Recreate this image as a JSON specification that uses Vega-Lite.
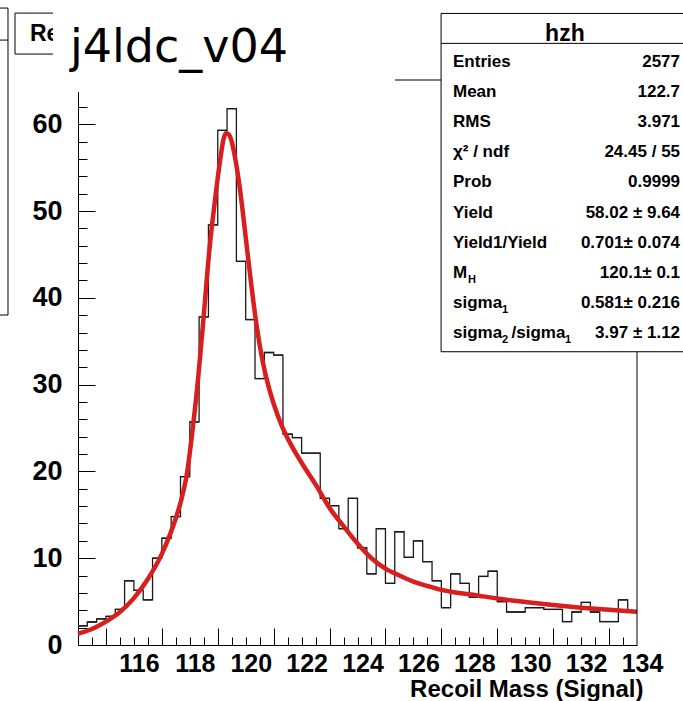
{
  "$schema": "https://vega.github.io/schema/vega-lite/v6.json",
  "width": 559,
  "height": 565,
  "autosize": "none",
  "padding": {"left": 78, "top": 80, "right": 46, "bottom": 56},
  "background": "white",
  "config": {"view": {"stroke": null}},
  "datasets": {
    "hist": [
      {"lo": 115, "hi": 115.333, "n": 2.2}, {"lo": 115.333, "hi": 115.667, "n": 2.65}, {"lo": 115.667, "hi": 116, "n": 3.0},
      {"lo": 116, "hi": 116.333, "n": 3.3}, {"lo": 116.333, "hi": 116.667, "n": 4.1}, {"lo": 116.667, "hi": 117, "n": 7.4},
      {"lo": 117, "hi": 117.333, "n": 6.3}, {"lo": 117.333, "hi": 117.667, "n": 5.2}, {"lo": 117.667, "hi": 118, "n": 10.0},
      {"lo": 118, "hi": 118.333, "n": 12.3}, {"lo": 118.333, "hi": 118.667, "n": 14.8}, {"lo": 118.667, "hi": 119, "n": 19.4},
      {"lo": 119, "hi": 119.333, "n": 25.7}, {"lo": 119.333, "hi": 119.667, "n": 37.8}, {"lo": 119.667, "hi": 120, "n": 48.4},
      {"lo": 120, "hi": 120.333, "n": 59.3}, {"lo": 120.333, "hi": 120.667, "n": 61.8}, {"lo": 120.667, "hi": 121, "n": 44.2},
      {"lo": 121, "hi": 121.333, "n": 37.5}, {"lo": 121.333, "hi": 121.667, "n": 30.7}, {"lo": 121.667, "hi": 122, "n": 33.7},
      {"lo": 122, "hi": 122.333, "n": 33.4}, {"lo": 122.333, "hi": 122.667, "n": 24.3}, {"lo": 122.667, "hi": 123, "n": 23.9},
      {"lo": 123, "hi": 123.333, "n": 22.1}, {"lo": 123.333, "hi": 123.667, "n": 22.1}, {"lo": 123.667, "hi": 124, "n": 16.9},
      {"lo": 124, "hi": 124.333, "n": 16.05}, {"lo": 124.333, "hi": 124.667, "n": 13.4}, {"lo": 124.667, "hi": 125, "n": 16.9},
      {"lo": 125, "hi": 125.333, "n": 11.2}, {"lo": 125.333, "hi": 125.667, "n": 8.2}, {"lo": 125.667, "hi": 126, "n": 13.4},
      {"lo": 126, "hi": 126.333, "n": 7.1}, {"lo": 126.333, "hi": 126.667, "n": 13.05}, {"lo": 126.667, "hi": 127, "n": 10.1},
      {"lo": 127, "hi": 127.333, "n": 12.0}, {"lo": 127.333, "hi": 127.667, "n": 9.6}, {"lo": 127.667, "hi": 128, "n": 7.4},
      {"lo": 128, "hi": 128.333, "n": 4.3}, {"lo": 128.333, "hi": 128.667, "n": 8.2}, {"lo": 128.667, "hi": 129, "n": 7.1},
      {"lo": 129, "hi": 129.333, "n": 5.5}, {"lo": 129.333, "hi": 129.667, "n": 7.9}, {"lo": 129.667, "hi": 130, "n": 8.5},
      {"lo": 130, "hi": 130.333, "n": 5.0}, {"lo": 130.333, "hi": 130.667, "n": 3.8}, {"lo": 130.667, "hi": 131, "n": 3.8},
      {"lo": 131, "hi": 131.333, "n": 4.3}, {"lo": 131.333, "hi": 131.667, "n": 4.3}, {"lo": 131.667, "hi": 132, "n": 4.1},
      {"lo": 132, "hi": 132.333, "n": 4.1}, {"lo": 132.333, "hi": 132.667, "n": 2.7}, {"lo": 132.667, "hi": 133, "n": 3.8},
      {"lo": 133, "hi": 133.333, "n": 4.9}, {"lo": 133.333, "hi": 133.667, "n": 3.8}, {"lo": 133.667, "hi": 134, "n": 2.7},
      {"lo": 134, "hi": 134.333, "n": 2.7}, {"lo": 134.333, "hi": 134.667, "n": 5.2}, {"lo": 134.667, "hi": 135, "n": 3.8}
    ],
    "fit": [
      {"m": 115.0, "f": 1.3}, {"m": 115.5, "f": 1.85}, {"m": 116.0, "f": 2.7}, {"m": 116.5, "f": 3.8},
      {"m": 117.0, "f": 5.4}, {"m": 117.5, "f": 7.6}, {"m": 118.0, "f": 10.5}, {"m": 118.3, "f": 12.8},
      {"m": 118.5, "f": 14.6}, {"m": 118.7, "f": 16.8}, {"m": 118.9, "f": 19.8}, {"m": 119.1, "f": 24.8},
      {"m": 119.3, "f": 30.8}, {"m": 119.5, "f": 38.0}, {"m": 119.7, "f": 45.5}, {"m": 119.9, "f": 51.2},
      {"m": 120.1, "f": 56.2}, {"m": 120.2, "f": 58.2}, {"m": 120.3, "f": 59.0}, {"m": 120.4, "f": 58.8},
      {"m": 120.5, "f": 58.0}, {"m": 120.6, "f": 56.5}, {"m": 120.8, "f": 52.4}, {"m": 121.0, "f": 47.0},
      {"m": 121.2, "f": 41.5}, {"m": 121.4, "f": 36.6}, {"m": 121.6, "f": 32.8}, {"m": 121.8, "f": 30.0},
      {"m": 122.0, "f": 27.8}, {"m": 122.3, "f": 25.2}, {"m": 122.6, "f": 23.2}, {"m": 123.0, "f": 21.0},
      {"m": 123.5, "f": 18.5}, {"m": 124.0, "f": 15.8}, {"m": 124.5, "f": 13.7}, {"m": 125.0, "f": 11.7},
      {"m": 125.5, "f": 10.0}, {"m": 126.0, "f": 8.8}, {"m": 126.5, "f": 8.0}, {"m": 127.0, "f": 7.3},
      {"m": 127.5, "f": 6.8}, {"m": 128.0, "f": 6.35}, {"m": 128.5, "f": 6.05}, {"m": 129.0, "f": 5.85},
      {"m": 129.5, "f": 5.6}, {"m": 130.0, "f": 5.35}, {"m": 131.0, "f": 4.95}, {"m": 132.0, "f": 4.6},
      {"m": 133.0, "f": 4.3}, {"m": 134.0, "f": 4.05}, {"m": 135.0, "f": 3.84}
    ],
    "stats": [
      {"row": "Entries", "lab": "Entries", "val": "2577", "subM": "", "subA": "", "subB": ""},
      {"row": "Mean", "lab": "Mean", "val": "122.7", "subM": "", "subA": "", "subB": ""},
      {"row": "RMS", "lab": "RMS", "val": "3.971", "subM": "", "subA": "", "subB": ""},
      {"row": "chi2", "lab": "χ² / ndf", "val": "24.45 / 55", "subM": "", "subA": "", "subB": ""},
      {"row": "Prob", "lab": "Prob", "val": "0.9999", "subM": "", "subA": "", "subB": ""},
      {"row": "Yield", "lab": "Yield", "val": "58.02 ± 9.64", "subM": "", "subA": "", "subB": ""},
      {"row": "Yield1/Yield", "lab": "Yield1/Yield", "val": "0.701± 0.074", "subM": "", "subA": "", "subB": ""},
      {"row": "M_H", "lab": "M", "val": "120.1± 0.1", "subM": "H", "subA": "", "subB": ""},
      {"row": "sigma_1", "lab": "sigma", "val": "0.581± 0.216", "subM": "", "subA": "1", "subB": ""},
      {"row": "sigma_2/sigma_1", "lab": "sigma\u00a0\u00a0/sigma", "val": "3.97 ± 1.12", "subM": "", "subA": "2", "subB": "1"}
    ]
  },
  "layer": [
    {
      "resolve": {"axis": {"x": "independent", "y": "independent"}},
      "layer": [
        {
          "data": {"name": "hist"},
          "mark": {"type": "line", "interpolate": "step-after", "color": "#1a1a1a", "strokeWidth": 1.3},
          "encoding": {
            "x": {"field": "lo", "type": "quantitative",
              "scale": {"domain": [115, 135], "nice": false, "zero": false},
              "axis": {"orient": "bottom", "values": [116, 118, 120, 122, 124, 126, 128, 130, 132, 134], "format": "d",
                "tickSize": -17, "tickColor": "black", "tickWidth": 1, "domainColor": "black", "domainWidth": 1,
                "labelFont": "Liberation Sans", "labelFontWeight": "bold", "labelFontSize": 25, "labelColor": "black",
                "labelPadding": 23, "labelOffset": 33, "labelFlush": false, "labelOverlap": false, "grid": false,
                "title": "Recoil Mass (Signal)", "titleFont": "Liberation Sans", "titleFontWeight": "bold", "titleFontSize": 24,
                "titleColor": "black", "titleAnchor": "end", "titleAlign": "right", "titleBaseline": "alphabetic", "titleX": 565, "titleY": 51}},
            "y": {"field": "n", "type": "quantitative",
              "scale": {"domain": [0, 65.1], "nice": false, "zero": true},
              "axis": {"orient": "left", "values": [0, 10, 20, 30, 40, 50, 60], "format": "d",
                "tickSize": -17, "tickColor": "black", "tickWidth": 1, "domainColor": "black", "domainWidth": 1,
                "labelFont": "Liberation Sans", "labelFontWeight": "bold", "labelFontSize": 27, "labelColor": "black",
                "labelPadding": 33, "labelFlush": false, "labelOverlap": false, "grid": false, "title": null}}
          }
        },
        {
          "data": {"name": "hist"},
          "mark": {"type": "rule", "color": "#1a1a1a", "strokeWidth": 1.3},
          "encoding": {
            "x": {"field": "lo", "type": "quantitative", "axis": null},
            "x2": {"field": "hi"},
            "y": {"field": "n", "type": "quantitative", "axis": null}
          }
        },
        {
          "data": {"name": "fit"},
          "mark": {"type": "line", "interpolate": "monotone", "color": "#d81e1e", "strokeWidth": 4.5},
          "encoding": {
            "x": {"field": "m", "type": "quantitative",
              "axis": {"orient": "bottom", "values": [115.5, 116.5, 117, 117.5, 118.5, 119, 119.5, 120.5, 121, 121.5, 122.5, 123, 123.5, 124.5, 125, 125.5, 126.5, 127, 127.5, 128.5, 129, 129.5, 130.5, 131, 131.5, 132.5, 133, 133.5, 134.5],
                "tickSize": -8, "tickColor": "black", "tickWidth": 1, "domain": false, "labels": false, "grid": false, "title": null}},
            "y": {"field": "f", "type": "quantitative",
              "axis": {"orient": "left", "values": [2, 4, 6, 8, 12, 14, 16, 18, 22, 24, 26, 28, 32, 34, 36, 38, 42, 44, 46, 48, 52, 54, 56, 58, 62, 64],
                "tickSize": -9, "tickColor": "black", "tickWidth": 1, "domain": false, "labels": false, "grid": false, "title": null}}
          }
        },
        {
          "data": {"values": [{}]},
          "mark": {"type": "rule", "color": "black", "strokeWidth": 1},
          "encoding": {"x": {"datum": 115, "axis": null}, "x2": {"datum": 135}, "y": {"datum": 65.1, "axis": null}}
        },
        {
          "data": {"values": [{}]},
          "mark": {"type": "rule", "color": "black", "strokeWidth": 1},
          "encoding": {"x": {"datum": 135, "axis": null}, "y": {"datum": 0, "axis": null}, "y2": {"datum": 65.1}}
        },
        {
          "data": {"values": [{}]},
          "mark": {"type": "rect", "fill": null, "fillOpacity": 0, "stroke": "black", "strokeWidth": 1},
          "encoding": {"x": {"datum": 110.4, "axis": null}, "x2": {"datum": 112.495}, "y": {"datum": 73.39, "axis": null}, "y2": {"datum": 38.02}}
        },
        {
          "data": {"values": [{}]},
          "mark": {"type": "rule", "color": "black", "strokeWidth": 1},
          "encoding": {"x": {"datum": 110.4, "axis": null}, "x2": {"datum": 112.495}, "y": {"datum": 69.7, "axis": null}}
        },
        {
          "data": {"values": [{}]},
          "mark": {"type": "rect", "fill": "white", "stroke": "black", "strokeWidth": 1},
          "encoding": {"x": {"datum": 112.746, "axis": null}, "x2": {"datum": 114.6}, "y": {"datum": 72.81, "axis": null}, "y2": {"datum": 68.09}}
        },
        {
          "data": {"values": [{}]},
          "mark": {"type": "text", "text": "Re", "align": "left", "baseline": "middle", "font": "Liberation Sans", "fontWeight": "bold", "fontSize": 23, "color": "black"},
          "encoding": {"x": {"datum": 113.283, "axis": null}, "y": {"datum": 70.4, "axis": null}}
        },
        {
          "data": {"values": [{}]},
          "mark": {"type": "rect", "fill": "white", "stroke": null},
          "encoding": {"x": {"datum": 114.106, "axis": null}, "x2": {"datum": 126.342}, "y": {"datum": 74.6, "axis": null}, "y2": {"datum": 63.71}}
        },
        {
          "data": {"values": [{}]},
          "mark": {"type": "text", "text": "j4ldc_v04", "align": "left", "baseline": "alphabetic", "font": "DejaVu Sans", "fontSize": 46, "color": "black"},
          "encoding": {"x": {"datum": 114.714, "axis": null}, "y": {"datum": 67.17, "axis": null}}
        },
        {
          "data": {"values": [{}]},
          "mark": {"type": "rect", "fill": "white", "stroke": "black", "strokeWidth": 1},
          "encoding": {"x": {"datum": 127.99, "axis": null}, "x2": {"datum": 136.9}, "y": {"datum": 72.77, "axis": null}, "y2": {"datum": 33.79}}
        },
        {
          "data": {"values": [{}]},
          "mark": {"type": "rule", "color": "black", "strokeWidth": 1},
          "encoding": {"x": {"datum": 127.99, "axis": null}, "x2": {"datum": 136.9}, "y": {"datum": 69.32, "axis": null}}
        },
        {
          "data": {"values": [{}]},
          "mark": {"type": "text", "text": "hzh", "align": "center", "baseline": "alphabetic", "font": "Liberation Sans", "fontWeight": "bold", "fontSize": 23, "color": "black"},
          "encoding": {"x": {"datum": 132.42, "axis": null}, "y": {"datum": 69.6, "axis": null}}
        }
      ]
    },
    {
      "data": {"name": "stats"},
      "encoding": {
        "y": {"field": "row", "type": "ordinal", "sort": null, "scale": {"type": "point", "range": [-18.3, 253.3], "padding": 0}, "axis": null}
      },
      "layer": [
        {
          "mark": {"type": "text", "align": "left", "baseline": "middle", "font": "Liberation Sans", "fontWeight": "bold", "fontSize": 17, "color": "black"},
          "encoding": {"x": {"datum": 128.417, "axis": null}, "text": {"field": "lab"}}
        },
        {
          "mark": {"type": "text", "align": "right", "baseline": "middle", "font": "Liberation Sans", "fontWeight": "bold", "fontSize": 17, "color": "black"},
          "encoding": {"x": {"datum": 136.54, "axis": null}, "text": {"field": "val"}}
        },
        {
          "mark": {"type": "text", "align": "left", "baseline": "middle", "font": "Liberation Sans", "fontWeight": "bold", "fontSize": 11, "dx": 15, "dy": 7, "color": "black"},
          "encoding": {"x": {"datum": 128.417, "axis": null}, "text": {"field": "subM"}}
        },
        {
          "mark": {"type": "text", "align": "left", "baseline": "middle", "font": "Liberation Sans", "fontWeight": "bold", "fontSize": 11, "dx": 49, "dy": 7, "color": "black"},
          "encoding": {"x": {"datum": 128.417, "axis": null}, "text": {"field": "subA"}}
        },
        {
          "mark": {"type": "text", "align": "left", "baseline": "middle", "font": "Liberation Sans", "fontWeight": "bold", "fontSize": 11, "dx": 112, "dy": 7, "color": "black"},
          "encoding": {"x": {"datum": 128.417, "axis": null}, "text": {"field": "subB"}}
        }
      ]
    }
  ],
  "resolve": {"scale": {"y": "independent"}, "axis": {"x": "independent", "y": "independent"}}
}
